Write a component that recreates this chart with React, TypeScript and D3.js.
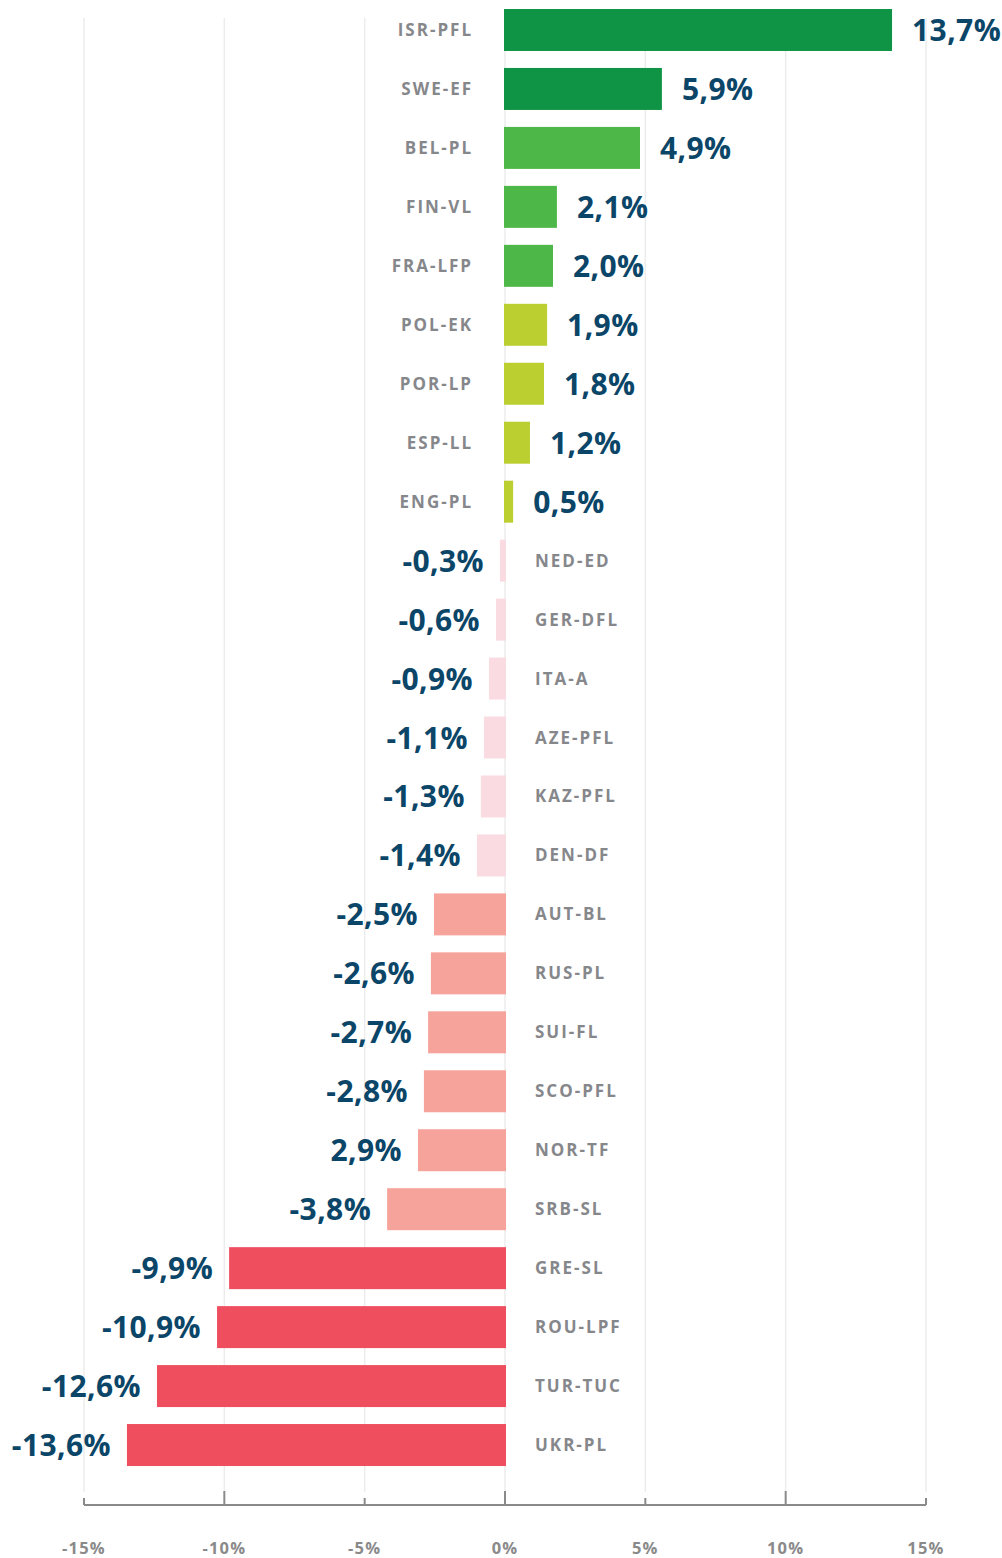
import React from "react";
import * as d3 from "d3";

const categories = [
  "ISR-PFL", "SWE-EF", "BEL-PL", "FIN-VL", "FRA-LFP", "POL-EK", "POR-LP", "ESP-LL", "ENG-PL",
  "NED-ED", "GER-DFL", "ITA-A", "AZE-PFL", "KAZ-PFL", "DEN-DF", "AUT-BL", "RUS-PL", "SUI-FL",
  "SCO-PFL", "NOR-TF", "SRB-SL", "GRE-SL", "ROU-LPF", "TUR-TUC", "UKR-PL",
];

// bar lengths as drawn in the picture (percent)
const barValues = [
  13.79, 5.59, 4.81, 1.85, 1.71, 1.5, 1.39, 0.89, 0.29,
  -0.18, -0.32, -0.57, -0.75, -0.86, -1.0, -2.53, -2.64, -2.74,
  -2.89, -3.1, -4.2, -9.83, -10.26, -12.4, -13.47,
];

// value labels as printed
const valueLabels = [
  "13,7%", "5,9%", "4,9%", "2,1%", "2,0%", "1,9%", "1,8%", "1,2%", "0,5%",
  "-0,3%", "-0,6%", "-0,9%", "-1,1%", "-1,3%", "-1,4%", "-2,5%", "-2,6%", "-2,7%",
  "-2,8%", "2,9%", "-3,8%", "-9,9%", "-10,9%", "-12,6%", "-13,6%",
];

// colour tier of each bar
const tiers = [0, 0, 1, 1, 1, 2, 2, 2, 2, 3, 3, 3, 3, 3, 3, 4, 4, 4, 4, 4, 4, 5, 5, 5, 5];
const tierColors = ["#0f9445", "#4db848", "#bccf31", "#f9dbe1", "#f6a49b", "#ef4e5f"];

const tickValues = [-15, -10, -5, 0, 5, 10, 15];
const tickLabels = ["-15%", "-10%", "-5%", "0%", "5%", "10%", "15%"];

const FONT = "'Open Sans', 'DejaVu Sans', sans-serif";

export default function App() {
  const W = 1002;
  const H = 1558;
  const x = d3.scaleLinear().domain([-15, 15]).range([84, 926]);
  const step = 58.96;
  const y = d3
    .scaleBand<string>()
    .domain(categories)
    .range([9 - step * 0.144, 9 - step * 0.144 + step * categories.length])
    .paddingInner(0.288)
    .paddingOuter(0.144);
  const bw = y.bandwidth();
  const axisY = 1505;
  const x0 = x(0);

  return (
    <svg
      width={W}
      height={H}
      style={{ position: "absolute", left: 0, top: 0, background: "#fff" }}
    >
      {tickValues.map((t) => (
        <line
          key={"g" + t}
          x1={x(t)}
          x2={x(t)}
          y1={18}
          y2={1492}
          stroke="#ececec"
          strokeWidth={1.5}
        />
      ))}
      {categories.map((c, i) => {
        const v = barValues[i];
        const yy = y(c)!;
        const cy = yy + bw / 2;
        const pos = v >= 0;
        const xs = pos ? x0 - 1 : x(v);
        const wd = pos ? x(v) - x0 + 1 : x0 - x(v) + 1;
        return (
          <g key={c}>
            <rect x={xs} y={yy} width={wd} height={bw} fill={tierColors[tiers[i]]} />
            <text
              x={pos ? x0 - 32 : x0 + 30}
              y={cy + 6}
              textAnchor={pos ? "end" : "start"}
              fontFamily={FONT}
              fontWeight={700}
              fontSize={17}
              letterSpacing={2}
              fill="#86878b"
            >
              {c}
            </text>
            <text
              x={pos ? x(v) + 20 : x(v) - 16}
              y={cy + 11}
              textAnchor={pos ? "start" : "end"}
              fontFamily={FONT}
              fontWeight={700}
              fontSize={30}
              letterSpacing={0.4}
              fill="#0b4668"
            >
              {valueLabels[i]}
            </text>
          </g>
        );
      })}
      <line x1={x(-15)} x2={x(15)} y1={axisY} y2={axisY} stroke="#8a8a8a" strokeWidth={2} />
      {tickValues.map((t, i) => (
        <g key={"t" + t}>
          <line
            x1={x(t)}
            x2={x(t)}
            y1={axisY - (t % 10 === 0 ? 14 : 7)}
            y2={axisY}
            stroke="#8a8a8a"
            strokeWidth={2}
          />
          <text
            x={x(t)}
            y={1554}
            textAnchor="middle"
            fontFamily={FONT}
            fontWeight={700}
            fontSize={16.5}
            letterSpacing={1.2}
            fill="#8a8a8a"
          >
            {tickLabels[i]}
          </text>
        </g>
      ))}
    </svg>
  );
}
